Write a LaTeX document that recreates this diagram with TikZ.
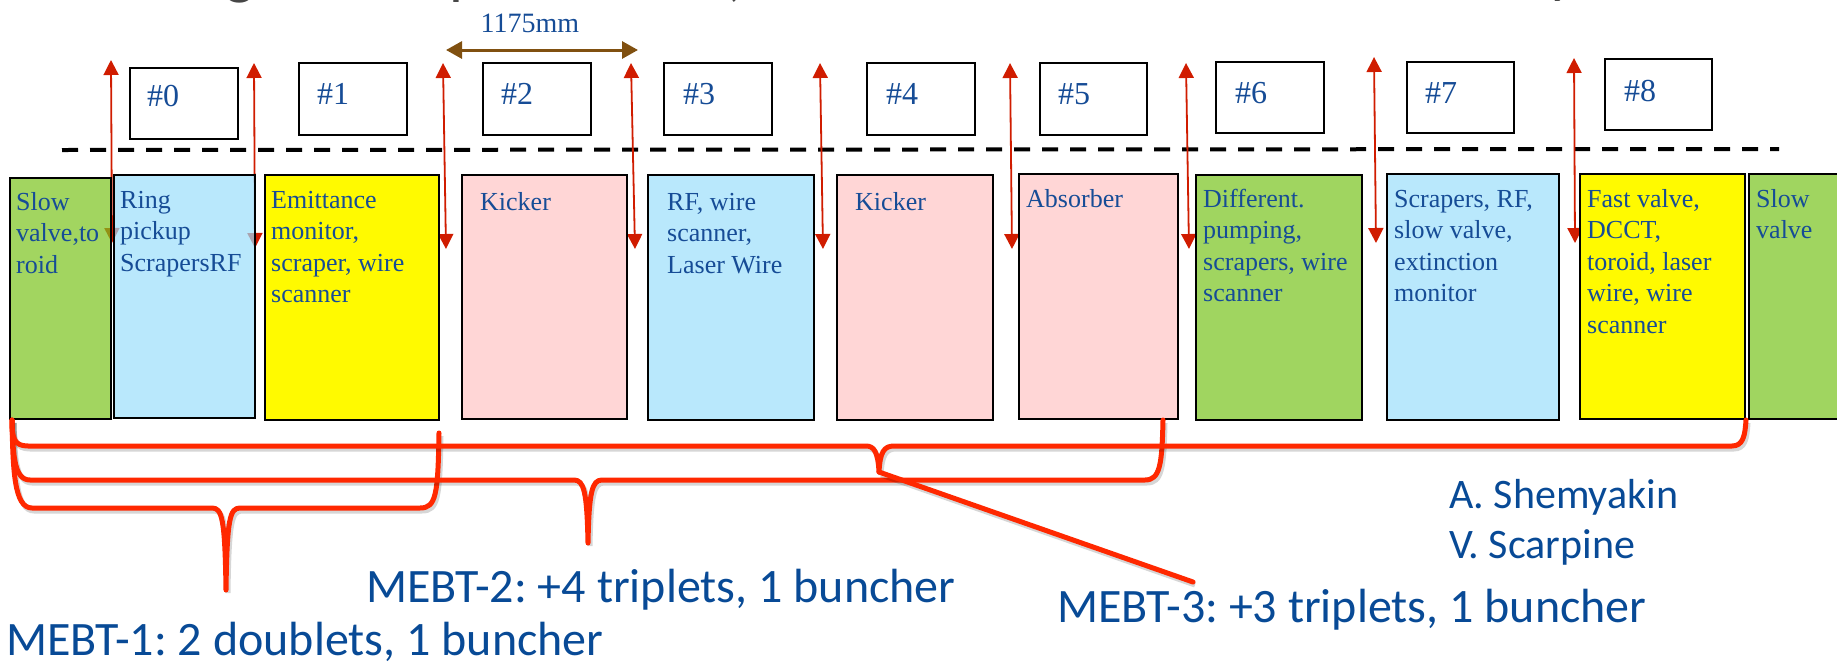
\documentclass[tikz,border=0pt]{standalone}
\usepackage{fontspec}
\setmainfont{Liberation Serif}
\newfontfamily\calib{Carlito}
\usetikzlibrary{arrows.meta}
\frenchspacing

\definecolor{txtblue}{RGB}{22,76,150}
\definecolor{lblblue}{RGB}{8,74,150}
\definecolor{arrred}{RGB}{208,28,0}
\definecolor{brkred}{RGB}{255,40,0}
\definecolor{dimbrown}{RGB}{128,80,16}
\definecolor{boxgreen}{RGB}{160,213,96}
\definecolor{boxblue}{RGB}{185,232,252}
\definecolor{boxyellow}{RGB}{255,250,0}
\definecolor{boxpink}{RGB}{255,214,214}
% see-through variants: drawn at 0.7 opacity they give the same tint on white
\definecolor{glassgreen}{RGB}{122,195,29}
\definecolor{glassblue}{RGB}{155,222,251}
\definecolor{titlegray}{RGB}{70,70,70}

\tikzset{
  cell/.style={draw=black, line width=2.4pt, inner sep=0pt, anchor=north west},
  slot/.style={cell, fill=white},
  % multi-line labels: the base anchor sits on the last line
  celltext/.style={anchor=base west, align=left, inner sep=0pt, text=txtblue,
    font=\fontsize{26}{31.5}\selectfont},
  slottext/.style={anchor=base west, inner sep=0pt, text=txtblue,
    font=\fontsize{32}{32}\selectfont},
  gapmark/.style={draw=arrred, line width=1.8pt,
    {Triangle[length=15pt,width=15pt]}-{Triangle[length=15pt,width=15pt]}},
  brk/.style={draw=brkred, line width=5pt, line cap=round, line join=round,
    preaction={draw=black, draw opacity=0.16, line width=5pt,
      transform canvas={shift={(2,3)}}}},
  lbl/.style={anchor=base west, inner sep=0pt, text=lblblue,
    font=\calib\fontsize{48}{48}\selectfont},
  author/.style={anchor=base west, inner sep=0pt, text=lblblue,
    font=\calib\fontsize{42}{42}\selectfont},
  titlebit/.style={anchor=base, inner sep=0pt, text=titlegray,
    font=\calib\fontsize{62}{62}\selectfont}
}

\begin{document}
\begin{tikzpicture}[x=1pt,y=-1pt]
\useasboundingbox (0,0) rectangle (1837,667);
\clip (0,0) rectangle (1837,667);

% descenders of the heading above the frame
\node[titlebit] (h1) at (240,-8) {g};
\node[titlebit] (h2) at (466,-8) {p};
\node[titlebit] (h3) at (736,-6) {,};
\node[titlebit] (h4) at (1563,-9) {y};

% period length marker
\coordinate (pl) at (446,50);
\coordinate (pr) at (638,50);
\draw[draw=dimbrown, line width=3pt,
  {Triangle[length=16pt,width=17pt]}-{Triangle[length=16pt,width=17pt]}] (pl) -- (pr);
\node[anchor=base, inner sep=0pt, text=txtblue, font=\fontsize{28}{28}\selectfont]
  (plen) at (530,32) {1175mm};

% slot boxes
\node[slot, minimum width=108pt, minimum height=71pt] (s0) at (129,67) {};
\node[slot, minimum width=108pt, minimum height=72pt] (s1) at (298,62) {};
\node[slot, minimum width=108pt, minimum height=72pt] (s2) at (482,62) {};
\node[slot, minimum width=108pt, minimum height=72pt] (s3) at (663,62) {};
\node[slot, minimum width=108pt, minimum height=72pt] (s4) at (866,62) {};
\node[slot, minimum width=107pt, minimum height=72pt] (s5) at (1039,62) {};
\node[slot, minimum width=108pt, minimum height=71pt] (s6) at (1215,61) {};
\node[slot, minimum width=107pt, minimum height=71pt] (s7) at (1406,61) {};
\node[slot, minimum width=107pt, minimum height=71pt] (s8) at (1604,58) {};
\node[slottext] (s0t) at (147,106) {\#0};
\node[slottext] (s1t) at (317,104) {\#1};
\node[slottext] (s2t) at (501,104) {\#2};
\node[slottext] (s3t) at (683,104) {\#3};
\node[slottext] (s4t) at (886,104) {\#4};
\node[slottext] (s5t) at (1058,104) {\#5};
\node[slottext] (s6t) at (1235,103) {\#6};
\node[slottext] (s7t) at (1425,103) {\#7};
\node[slottext] (s8t) at (1624,101) {\#8};

% dashed reference line
\coordinate (dl) at (62,150);
\coordinate (dr) at (1779,149);
\draw[line width=4pt, dash pattern=on 16pt off 12pt] (dl) -- (dr);

% gap markers between the sections
\coordinate (m1t) at (111,60);   \coordinate (m1b) at (112,243);
\coordinate (m2t) at (254,63);   \coordinate (m2b) at (255,248);
\coordinate (m3t) at (443,63);   \coordinate (m3b) at (446,249);
\coordinate (m4t) at (631,63);   \coordinate (m4b) at (635,249);
\coordinate (m5t) at (820,63);   \coordinate (m5b) at (823,249);
\coordinate (m6t) at (1010,63);  \coordinate (m6b) at (1012,249);
\coordinate (m7t) at (1186,63);  \coordinate (m7b) at (1189,249);
\coordinate (m8t) at (1374,57);  \coordinate (m8b) at (1376,243);
\coordinate (m9t) at (1574,58);  \coordinate (m9b) at (1575,243);
\foreach \i in {1,...,9} \draw[gapmark] (m\i t) -- (m\i b);

% beamline sections
\node[cell, fill=glassgreen, fill opacity=0.7, minimum width=101pt, minimum height=241pt] (g1) at (9,177) {};
\node[cell, fill=glassblue, fill opacity=0.7, minimum width=141pt, minimum height=243pt] (b1) at (113,174) {};
\node[cell, fill=boxyellow, minimum width=174pt, minimum height=245pt] (y1) at (264,174) {};
\node[cell, fill=boxpink, minimum width=165pt, minimum height=244pt] (p1) at (461,174) {};
\node[cell, fill=boxblue, minimum width=166pt, minimum height=245pt] (b2) at (647,174) {};
\node[cell, fill=boxpink, minimum width=156pt, minimum height=245pt] (p2) at (836,174) {};
\node[cell, fill=boxpink, minimum width=159pt, minimum height=245pt] (p3) at (1018,173) {};
\node[cell, fill=boxgreen, minimum width=166pt, minimum height=245pt] (g2) at (1195,174) {};
\node[cell, fill=boxblue, minimum width=172pt, minimum height=246pt] (b3) at (1386,173) {};
\node[cell, fill=boxyellow, minimum width=165pt, minimum height=245pt] (y2) at (1579,173) {};
\node[cell, fill=boxgreen, minimum width=100pt, minimum height=245pt] (g3) at (1748,173) {};

\node[celltext] (g1t) at (16,273) {Slow\\valve,to\\roid};
\node[celltext] (b1t) at (120,271) {Ring\\pickup\\ScrapersRF};
\node[celltext] (y1t) at (271,302.5) {Emittance\\monitor,\\scraper, wire\\scanner};
\node[celltext] (p1t) at (480,210) {Kicker};
\node[celltext] (b2t) at (667,273) {RF, wire\\scanner,\\Laser Wire};
\node[celltext] (p2t) at (855,210) {Kicker};
\node[celltext] (p3t) at (1026,207) {Absorber};
\node[celltext] (g2t) at (1203,301.5) {Different.\\pumping,\\scrapers, wire\\scanner};
\node[celltext] (b3t) at (1394,301.5) {Scrapers, RF,\\slow valve,\\extinction\\monitor};
\node[celltext] (y2t) at (1587,333) {Fast valve,\\DCCT,\\toroid, laser\\wire, wire\\scanner};
\node[celltext] (g3t) at (1756,238.5) {Slow\\valve};

% braces grouping the sections
\coordinate (bo) at (12,420);
\coordinate (ea) at (439,433);
\coordinate (eb) at (1163,420);
\coordinate (ec) at (1746,420);
\coordinate (ta) at (226,590);
\coordinate (tb) at (588,543);
\coordinate (tc) at (879,472);
\coordinate (pc) at (1193,582);

\draw[brk] (bo) .. controls (13,470) and (14,508) .. (32,508) -- (212,508)
  .. controls (222,508) and (225,518) .. (ta)
  .. controls (227,518) and (230,508) .. (240,508) -- (420,508)
  .. controls (436,508) and (438,495) .. (ea);
\draw[brk] (bo) .. controls (13,455) and (14,480) .. (30,480) -- (574,480)
  .. controls (584,480) and (587,492) .. (tb)
  .. controls (589,492) and (592,480) .. (602,480) -- (1145,480)
  .. controls (1160,480) and (1162,465) .. (eb);
\draw[brk] (bo) .. controls (12,438) and (14,446) .. (28,446) -- (866,446)
  .. controls (874,446) and (878,452) .. (tc)
  .. controls (880,452) and (884,446) .. (894,446) -- (1732,446)
  .. controls (1743,446) and (1745,436) .. (ec);
\draw[brk] (tc) -- (pc);

% group labels
\node[lbl] (mebt1) at (6,655) {MEBT-1: 2 doublets, 1 buncher};
\node[lbl] (mebt2) at (366,602) {MEBT-2: +4 triplets, 1 buncher};
\node[lbl] (mebt3) at (1057,622) {MEBT-3: +3 triplets, 1 buncher};
\node[author] (au1) at (1449,508) {A. Shemyakin};
\node[author] (au2) at (1449,558) {V. Scarpine};
\end{tikzpicture}
\end{document}
